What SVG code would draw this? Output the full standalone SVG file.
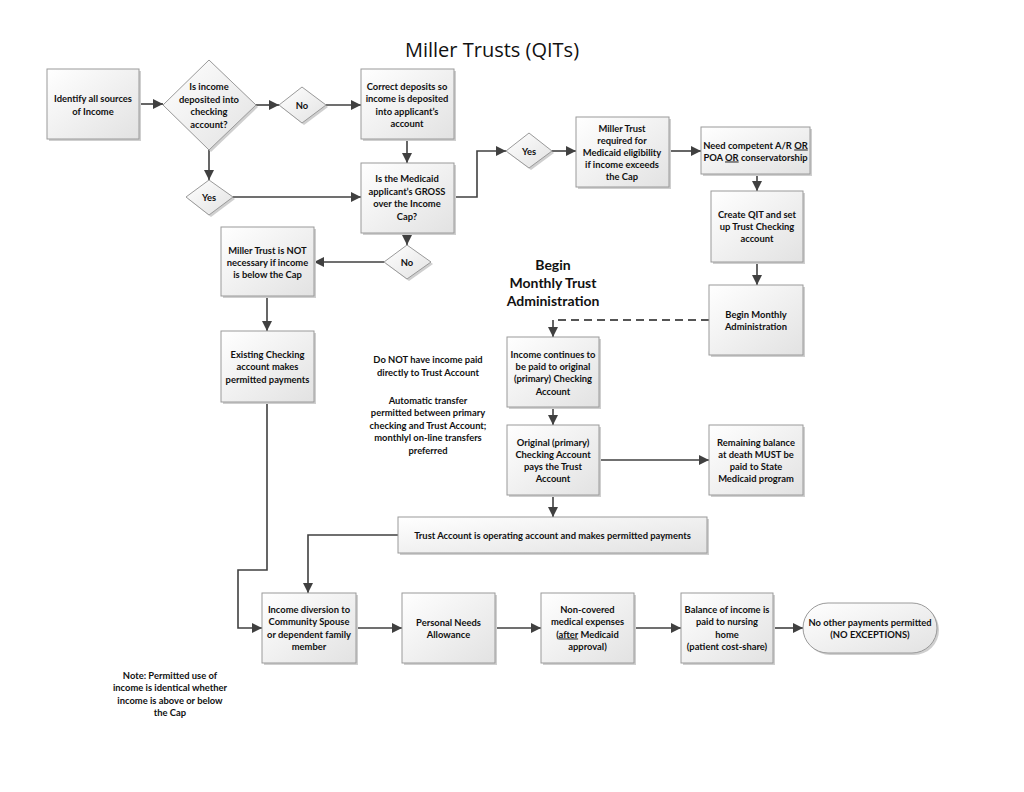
<svg xmlns="http://www.w3.org/2000/svg" width="1024" height="792" viewBox="0 0 1024 792">
<style>
.t{font-family:Lato,"Open Sans","Liberation Sans",sans-serif;font-weight:bold;font-size:9.4px;fill:#111;text-anchor:middle}
.box{fill:url(#g);stroke:#9a9a9a;stroke-width:1}
.sh{fill:#cfcfcf}
.ln{fill:none;stroke:#404040;stroke-width:1.6}
.dash{fill:none;stroke:#555;stroke-width:1.8;stroke-dasharray:8,5}
.big{font-family:Lato,"Open Sans","Liberation Sans",sans-serif;font-weight:bold;font-size:14px;fill:#111;text-anchor:middle}
.title{font-family:"Open Sans",Lato,"Liberation Sans",sans-serif;font-size:20px;fill:#111;text-anchor:middle}
</style>
<defs>
<linearGradient id="g" x1="0" y1="0" x2="1" y2="1">
<stop offset="0" stop-color="#ffffff"/>
<stop offset="1" stop-color="#e2e2e2"/>
</linearGradient>
<marker id="a" viewBox="0 0 10 10" refX="10" refY="5" markerWidth="6.5" markerHeight="6.5" orient="auto" markerUnits="strokeWidth">
<path d="M0,0 L10,5 L0,10 z" fill="#404040"/>
</marker>
</defs>
<rect width="1024" height="792" fill="#fff"/>
<text class="title" x="492" y="57">Miller Trusts (QITs)</text>

<g id="connectors">
<path class="ln" d="M139,104 H163" marker-end="url(#a)"/>
<path class="ln" d="M256,105 H279" marker-end="url(#a)"/>
<path class="ln" d="M326,105 H361" marker-end="url(#a)"/>
<path class="ln" d="M209,150 V180" marker-end="url(#a)"/>
<path class="ln" d="M407,139 V163" marker-end="url(#a)"/>
<path class="ln" d="M233,197 H361" marker-end="url(#a)"/>
<path class="ln" d="M454,197 H477 V151 H506" marker-end="url(#a)"/>
<path class="ln" d="M552,151 H576" marker-end="url(#a)"/>
<path class="ln" d="M669,151 H701" marker-end="url(#a)"/>
<path class="ln" d="M757,174 V191" marker-end="url(#a)"/>
<path class="ln" d="M757,262 V285" marker-end="url(#a)"/>
<path class="dash" d="M709,320 H553 V328"/>
<path class="ln" d="M553,328 V337" marker-end="url(#a)"/>
<path class="ln" d="M553,407 V425" marker-end="url(#a)"/>
<path class="ln" d="M599,460 H709" marker-end="url(#a)"/>
<path class="ln" d="M553,495 V517" marker-end="url(#a)"/>
<path class="ln" d="M398,535 H308 V593" marker-end="url(#a)"/>
<path class="ln" d="M407,233 V245" marker-end="url(#a)"/>
<path class="ln" d="M384,262 H314" marker-end="url(#a)"/>
<path class="ln" d="M267,296 V331" marker-end="url(#a)"/>
<path class="ln" d="M267,402 V570 H238 V628 H262" marker-end="url(#a)"/>
<path class="ln" d="M356,628 H402" marker-end="url(#a)"/>
<path class="ln" d="M495,628 H541" marker-end="url(#a)"/>
<path class="ln" d="M634,628 H681" marker-end="url(#a)"/>
<path class="ln" d="M773,628 H803" marker-end="url(#a)"/>
</g>

<g id="n1"><rect class="sh" x="49" y="71" width="92" height="70"/><rect class="box" x="47" y="69" width="92" height="70"/>
<text class="t" x="93" y="102">Identify all sources</text><text class="t" x="93" y="115">of Income</text></g>

<g id="n2"><polygon class="sh" points="211,62 258,107 211,152 165,107"/><polygon class="box" points="209,60 256,105 209,150 163,105"/>
<text class="t" x="209" y="90">Is income</text><text class="t" x="209" y="102.5">deposited into</text><text class="t" x="209" y="115">checking</text><text class="t" x="209" y="127.5">account?</text></g>

<g id="n3"><polygon class="sh" points="304,89 328,107 304,125 281,107"/><polygon class="box" points="302,87 326,105 302,123 279,105"/>
<text class="t" x="302" y="108.5">No</text></g>

<g id="n4"><rect class="sh" x="363" y="71" width="93" height="70"/><rect class="box" x="361" y="69" width="93" height="70"/>
<text class="t" x="407" y="89.5">Correct deposits so</text><text class="t" x="407" y="102">income is deposited</text><text class="t" x="407" y="114.5">into applicant’s</text><text class="t" x="407" y="127">account</text></g>

<g id="n5"><polygon class="sh" points="211,182 235,199 211,217 188,199"/><polygon class="box" points="209,180 233,197 209,215 186,197"/>
<text class="t" x="209" y="200.5">Yes</text></g>

<g id="n6"><rect class="sh" x="363" y="165" width="93" height="70"/><rect class="box" x="361" y="163" width="93" height="70"/>
<text class="t" x="407" y="182">Is the Medicaid</text><text class="t" x="407" y="194.5">applicant’s GROSS</text><text class="t" x="407" y="207">over the Income</text><text class="t" x="407" y="219.5">Cap?</text></g>

<g id="n7"><polygon class="sh" points="531,135 554,153 531,170 508,153"/><polygon class="box" points="529,133 552,151 529,168 506,151"/>
<text class="t" x="529" y="154.5">Yes</text></g>

<g id="n8"><rect class="sh" x="578" y="119" width="93" height="70"/><rect class="box" x="576" y="117" width="93" height="70"/>
<text class="t" x="622" y="131.5">Miller Trust</text><text class="t" x="622" y="143.5">required for</text><text class="t" x="622" y="155.5">Medicaid eligibility</text><text class="t" x="622" y="167.5">if income exceeds</text><text class="t" x="622" y="179.5">the Cap</text></g>

<g id="n9"><rect class="sh" x="703" y="129" width="109" height="47"/><rect class="box" x="701" y="127" width="109" height="47"/>
<text class="t" x="755.5" y="148.5">Need competent A/R <tspan text-decoration="underline">OR</tspan></text><text class="t" x="755.5" y="160.5">POA <tspan text-decoration="underline">OR</tspan> conservatorship</text></g>

<g id="n10"><rect class="sh" x="713" y="193" width="92" height="71"/><rect class="box" x="711" y="191" width="92" height="71"/>
<text class="t" x="757" y="218">Create QIT and set</text><text class="t" x="757" y="230">up Trust Checking</text><text class="t" x="757" y="242">account</text></g>

<g id="n11"><rect class="sh" x="711" y="287" width="94" height="70"/><rect class="box" x="709" y="285" width="94" height="70"/>
<text class="t" x="756" y="317.5">Begin Monthly</text><text class="t" x="756" y="329.5">Administration</text></g>

<g id="heading"><text class="big" x="553" y="270">Begin</text><text class="big" x="553" y="288">Monthly Trust</text><text class="big" x="553" y="306">Administration</text></g>

<g id="n13"><rect class="sh" x="509" y="339" width="92" height="70"/><rect class="box" x="507" y="337" width="92" height="70"/>
<text class="t" x="553" y="357.5">Income continues to</text><text class="t" x="553" y="369.5">be paid to original</text><text class="t" x="553" y="382">(primary) Checking</text><text class="t" x="553" y="394.5">Account</text></g>

<g id="n14"><rect class="sh" x="509" y="427" width="92" height="70"/><rect class="box" x="507" y="425" width="92" height="70"/>
<text class="t" x="553" y="445.5">Original (primary)</text><text class="t" x="553" y="457.5">Checking Account</text><text class="t" x="553" y="469.5">pays the Trust</text><text class="t" x="553" y="481.5">Account</text></g>

<g id="n15"><rect class="sh" x="711" y="427" width="94" height="70"/><rect class="box" x="709" y="425" width="94" height="70"/>
<text class="t" x="756" y="445.5">Remaining balance</text><text class="t" x="756" y="457.5">at death MUST be</text><text class="t" x="756" y="469.5">paid to State</text><text class="t" x="756" y="481.5">Medicaid program</text></g>

<g id="notes1"><text class="t" x="428" y="363">Do NOT have income paid</text><text class="t" x="428" y="375.5">directly to Trust Account</text>
<text class="t" x="428" y="403.5">Automatic transfer</text><text class="t" x="428" y="416">permitted between primary</text><text class="t" x="428" y="428.5">checking and Trust Account;</text><text class="t" x="428" y="441">monthlyl on-line transfers</text><text class="t" x="428" y="453.5">preferred</text></g>

<g id="n16"><rect class="sh" x="400" y="519" width="309" height="36"/><rect class="box" x="398" y="517" width="309" height="36"/>
<text class="t" x="552.5" y="538.5">Trust Account is operating account and makes permitted payments</text></g>

<g id="n23"><rect class="sh" x="223" y="229" width="93" height="69"/><rect class="box" x="221" y="227" width="93" height="69"/>
<text class="t" x="267.5" y="253.5">Miller Trust is NOT</text><text class="t" x="267.5" y="266">necessary if income</text><text class="t" x="267.5" y="278">is below the Cap</text></g>

<g id="n24"><polygon class="sh" points="409,247 433,264 409,281 386,264"/><polygon class="box" points="407,245 431,262 407,279 384,262"/>
<text class="t" x="407" y="265.5">No</text></g>

<g id="n25"><rect class="sh" x="223" y="333" width="93" height="71"/><rect class="box" x="221" y="331" width="93" height="71"/>
<text class="t" x="267.5" y="357.5">Existing Checking</text><text class="t" x="267.5" y="370">account makes</text><text class="t" x="267.5" y="382.5">permitted payments</text></g>

<g id="n18"><rect class="sh" x="264" y="595" width="94" height="70"/><rect class="box" x="262" y="593" width="94" height="70"/>
<text class="t" x="309" y="612.5">Income diversion to</text><text class="t" x="309" y="625">Community Spouse</text><text class="t" x="309" y="637.5">or dependent family</text><text class="t" x="309" y="650">member</text></g>

<g id="n19"><rect class="sh" x="404" y="595" width="93" height="70"/><rect class="box" x="402" y="593" width="93" height="70"/>
<text class="t" x="448.5" y="625.5">Personal Needs</text><text class="t" x="448.5" y="638">Allowance</text></g>

<g id="n20"><rect class="sh" x="543" y="595" width="93" height="70"/><rect class="box" x="541" y="593" width="93" height="70"/>
<text class="t" x="587.5" y="612.5">Non-covered</text><text class="t" x="587.5" y="625">medical expenses</text><text class="t" x="587.5" y="637.5">(<tspan text-decoration="underline">after</tspan> Medicaid</text><text class="t" x="587.5" y="650">approval)</text></g>

<g id="n21"><rect class="sh" x="683" y="595" width="92" height="70"/><rect class="box" x="681" y="593" width="92" height="70"/>
<text class="t" x="727" y="612.5">Balance of income is</text><text class="t" x="727" y="625">paid to nursing</text><text class="t" x="727" y="637.5">home</text><text class="t" x="727" y="650">(patient cost-share)</text></g>

<g id="n22"><rect class="sh" x="805" y="605" width="134" height="50" rx="25"/><rect class="box" x="803" y="603" width="134" height="50" rx="25"/>
<text class="t" x="870" y="625.5">No other payments permitted</text><text class="t" x="870" y="638">(NO EXCEPTIONS)</text></g>

<g id="note2"><text class="t" x="170" y="678.5">Note: Permitted use of</text><text class="t" x="170" y="691">income is identical whether</text><text class="t" x="170" y="703.5">income is above or below</text><text class="t" x="170" y="716">the Cap</text></g>
</svg>
